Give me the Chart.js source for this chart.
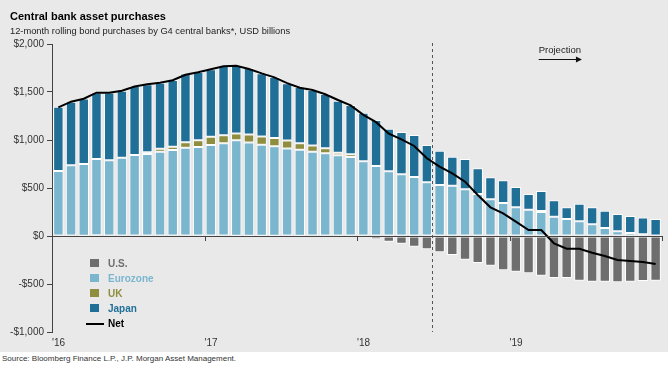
<!DOCTYPE html>
<html>
<head>
<meta charset="utf-8">
<script src="https://cdn.jsdelivr.net/npm/chart.js@4.4.1/dist/chart.umd.min.js"></script>
<style>
  body { margin: 0; background: #fff; font-family: Arial, "Liberation Sans", sans-serif; }
  #wrap { position: relative; width: 668px; height: 352px; background: #e9e9e9; }
  #chart { position: absolute; left: 0; top: 0; }
  .title { position: absolute; left: 10px; top: 10px; font-size: 11px; font-weight: bold; color: #000; }
  .sub { position: absolute; left: 10px; top: 26px; font-size: 9.3px; color: #222; }
  .source { position: absolute; left: 2px; top: 354px; font-size: 8px; color: #333; }
  #legend { position: absolute; left: 86px; top: 256px; font-size: 10px; font-weight: bold; }
  #legend div { height: 15px; line-height: 15px; position: relative; padding-left: 22px; }
  #legend span.sw { position: absolute; left: 4px; top: 3px; width: 9px; height: 8px; }
  #legend span.ln { position: absolute; left: 0; top: 7px; width: 18px; height: 2px; background: #000; }
</style>
</head>
<body>
<div id="wrap">
  <canvas id="chart" width="668" height="352"></canvas>
  <div class="title">Central bank asset purchases</div>
  <div class="sub">12-month rolling bond purchases by G4 central banks*, USD billions</div>
  <div id="legend"></div>
</div>
<div class="source">Source: Bloomberg Finance L.P., J.P. Morgan Asset Management.</div>
<script>
// monthly bars, Jan 2016 .. Dec 2019 (48 months)
const yearLabels = ["'16", "'17", "'18", "'19"];
const yTicks = [-1000, -500, 0, 500, 1000, 1500, 2000];

const us = [0, 0, 2, 8, 5, 0, 0, -6, -3, -8, -12, -5,
  -4, 0, 2, 3, 2, 3, 6, 3, 6, 5, 0, -3,
  -14, -35, -59, -80, -111, -139, -170, -198, -247, -281, -309, -358,
  -372, -389, -413, -438, -438, -465, -476, -476, -483, -476, -469, -465];
const eurozone = [677, 736, 747, 795, 785, 816, 844, 854, 878, 896, 920, 927,
  948, 965, 995, 972, 948, 931, 905, 896, 872, 856, 840, 823,
  778, 729, 674, 642, 615, 560, 531, 524, 486, 437, 382, 344,
  299, 274, 250, 201, 177, 153, 122, 83, 49, 31, 17, 4];
const uk = [0, 0, 0, 0, 0, 0, 0, 18, 32, 34, 56, 70,
  86, 84, 70, 83, 87, 86, 83, 66, 66, 52, 28, 28,
  0, 0, 0, 0, 0, 0, 0, 0, 0, 0, 0, 0,
  0, 0, 10, 0, 0, 0, 0, 0, 0, 0, 0, 0];
const japan = [670, 663, 683, 691, 705, 698, 718, 708, 687, 695, 718, 711,
  702, 722, 712, 693, 659, 636, 597, 587, 577, 566, 542, 514,
  507, 479, 444, 441, 437, 388, 356, 302, 316, 268, 229, 236,
  211, 163, 209, 171, 122, 184, 177, 181, 180, 177, 177, 173];
const net = [1340, 1399, 1430, 1493, 1493, 1514, 1558, 1580, 1597, 1622, 1680, 1705,
  1736, 1768, 1774, 1740, 1694, 1653, 1592, 1545, 1521, 1476, 1417, 1360,
  1262, 1186, 1065, 1007, 938, 809, 722, 653, 566, 427, 299, 236,
  149, 62, 62, -76, -132, -132, -174, -208, -250, -260, -271, -292];

const projectionStart = 30; // first projected month (Jul 2018)

const colors = { us: '#6e6e6e', eurozone: '#7bb6cf', uk: '#8e8e3e', japan: '#1f6f97', net: '#000' };

function pts(arr) {
  return arr.map((v, i) => ({ x: i + 0.5, y: v }));
}

function barSet(label, arr, color) {
  return {
    type: 'bar', label: label, data: pts(arr), backgroundColor: color,
    borderColor: '#fff', borderWidth: 1, borderSkipped: false,
    barPercentage: 0.82, categoryPercentage: 1, stack: 'g4', order: 1
  };
}

const datasets = [
  { type: 'line', label: 'Net', data: pts(net), borderColor: colors.net, borderWidth: 2,
    pointRadius: 0, tension: 0, stack: 'net', order: 0 },
  barSet('U.S.', us, colors.us),
  barSet('Eurozone', eurozone, colors.eurozone),
  barSet('UK', uk, colors.uk),
  barSet('Japan', japan, colors.japan)
];

// zero line ticks, projection divider and label
const extras = {
  id: 'extras',
  afterDatasetsDraw(chart) {
    const { ctx, chartArea, scales: { x, y } } = chart;
    const y0 = y.getPixelForValue(0);
    ctx.save();
    ctx.strokeStyle = '#444';
    ctx.lineWidth = 1;
    ctx.beginPath();
    ctx.moveTo(chartArea.left, Math.round(y0) + 0.5);
    ctx.lineTo(chartArea.right, Math.round(y0) + 0.5);
    for (let k = 0; k <= 48; k += 12) {
      const px = Math.round(x.getPixelForValue(k)) + 0.5;
      ctx.moveTo(px, y0);
      ctx.lineTo(px, y0 + 5);
    }
    ctx.stroke();

    const dx = Math.round(x.getPixelForValue(projectionStart)) - 0.5;
    ctx.strokeStyle = '#555';
    ctx.setLineDash([3, 3]);
    ctx.beginPath();
    ctx.moveTo(dx, chartArea.top - 1);
    ctx.lineTo(dx, chartArea.bottom);
    ctx.stroke();
    ctx.setLineDash([]);

    const ax0 = x.getPixelForValue(38.3);
    const ax1 = x.getPixelForValue(41.7);
    const ay = 59.5;
    ctx.fillStyle = '#222';
    ctx.font = '9.5px Arial, "Liberation Sans", sans-serif';
    ctx.textBaseline = 'middle';
    ctx.fillText('Projection', ax0, 50);
    ctx.strokeStyle = '#111';
    ctx.beginPath();
    ctx.moveTo(ax0, ay);
    ctx.lineTo(ax1 - 4, ay);
    ctx.stroke();
    ctx.fillStyle = '#111';
    ctx.beginPath();
    ctx.moveTo(ax1, ay);
    ctx.lineTo(ax1 - 6, ay - 3);
    ctx.lineTo(ax1 - 6, ay + 3);
    ctx.closePath();
    ctx.fill();
    ctx.restore();
  }
};

new Chart(document.getElementById('chart'), {
  data: { datasets: datasets },
  options: {
    responsive: false,
    animation: false,
    devicePixelRatio: 1,
    layout: { padding: { left: 0, right: 6, top: 44, bottom: 0 } },
    plugins: { legend: { display: false }, tooltip: { enabled: false } },
    scales: {
      x: {
        type: 'linear', min: 0, max: 48, stacked: true, offset: false,
        grid: { display: false, drawTicks: false }, border: { display: false },
        afterBuildTicks(scale) { scale.ticks = [0, 12, 24, 36].map(v => ({ value: v })); },
        afterFit(scale) { scale.height = 20; },
        ticks: {
          align: 'start', padding: 5, color: '#333',
          font: { family: 'Arial, "Liberation Sans", sans-serif', size: 10 },
          callback: (v) => yearLabels[v / 12]
        }
      },
      y: {
        min: -1000, max: 2000, stacked: true,
        afterBuildTicks(scale) { scale.ticks = yTicks.map(v => ({ value: v })); },
        afterFit(scale) { scale.width = 52; },
        border: { display: true, color: '#444', width: 1 },
        grid: { color: 'transparent', drawTicks: true, tickLength: 5, tickColor: '#444' },
        ticks: {
          padding: 3, color: '#333',
          font: { family: 'Arial, "Liberation Sans", sans-serif', size: 10 },
          callback: (v) => (v < 0 ? '-$' : '$') + Math.abs(v).toLocaleString('en-US')
        }
      }
    }
  },
  plugins: [extras]
});

// legend
const legendItems = [
  { label: 'U.S.', color: colors.us },
  { label: 'Eurozone', color: colors.eurozone },
  { label: 'UK', color: colors.uk },
  { label: 'Japan', color: colors.japan },
  { label: 'Net', color: colors.net, line: true }
];
const legend = document.getElementById('legend');
legendItems.forEach(item => {
  const row = document.createElement('div');
  row.style.color = item.color;
  const mark = document.createElement('span');
  mark.className = item.line ? 'ln' : 'sw';
  if (!item.line) mark.style.background = item.color;
  row.appendChild(mark);
  row.appendChild(document.createTextNode(item.label));
  legend.appendChild(row);
});
</script>
</body>
</html>
